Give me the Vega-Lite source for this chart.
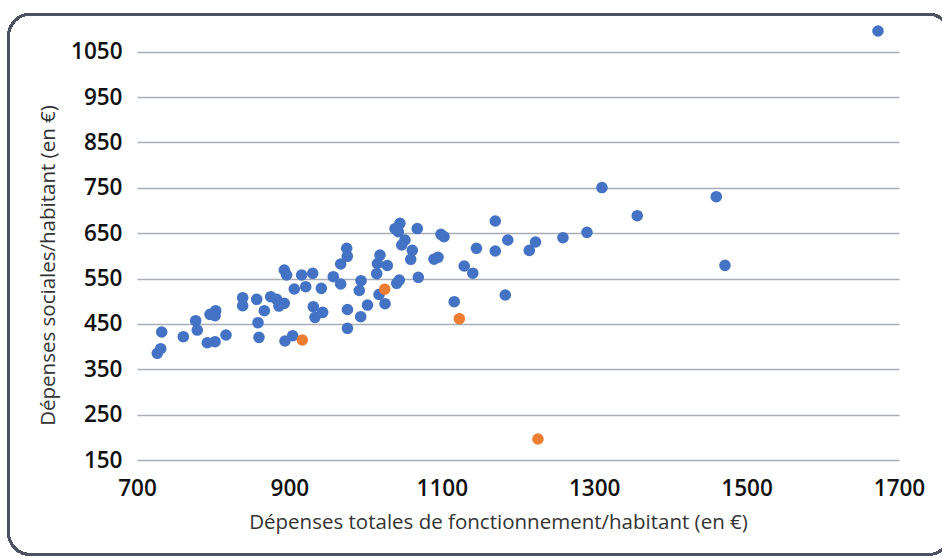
{
  "$schema": "https://vega.github.io/schema/vega-lite/v6.json",
  "width": 762,
  "height": 431,
  "autosize": {"type": "none"},
  "padding": {"left": 137, "top": 29, "right": 43, "bottom": 98},
  "background": "white",
  "config": {"view": {"stroke": null}},
  "data": {"values": [
    {"depenses_totales": 726.6, "depenses_sociales": 385.2, "groupe": "Autres"},
    {"depenses_totales": 731.1, "depenses_sociales": 395.3, "groupe": "Autres"},
    {"depenses_totales": 732.4, "depenses_sociales": 432.1, "groupe": "Autres"},
    {"depenses_totales": 760.8, "depenses_sociales": 421.8, "groupe": "Autres"},
    {"depenses_totales": 777.0, "depenses_sociales": 457.0, "groupe": "Autres"},
    {"depenses_totales": 779.1, "depenses_sociales": 436.5, "groupe": "Autres"},
    {"depenses_totales": 792.3, "depenses_sociales": 408.5, "groupe": "Autres"},
    {"depenses_totales": 802.4, "depenses_sociales": 410.7, "groupe": "Autres"},
    {"depenses_totales": 795.8, "depenses_sociales": 471.1, "groupe": "Autres"},
    {"depenses_totales": 803.3, "depenses_sociales": 479.1, "groupe": "Autres"},
    {"depenses_totales": 802.4, "depenses_sociales": 468.1, "groupe": "Autres"},
    {"depenses_totales": 816.8, "depenses_sociales": 425.5, "groupe": "Autres"},
    {"depenses_totales": 838.7, "depenses_sociales": 507.7, "groupe": "Autres"},
    {"depenses_totales": 838.7, "depenses_sociales": 490.1, "groupe": "Autres"},
    {"depenses_totales": 857.1, "depenses_sociales": 504.2, "groupe": "Autres"},
    {"depenses_totales": 858.8, "depenses_sociales": 452.6, "groupe": "Autres"},
    {"depenses_totales": 860.1, "depenses_sociales": 420.4, "groupe": "Autres"},
    {"depenses_totales": 867.1, "depenses_sociales": 479.1, "groupe": "Autres"},
    {"depenses_totales": 875.5, "depenses_sociales": 509.9, "groupe": "Autres"},
    {"depenses_totales": 883.3, "depenses_sociales": 504.2, "groupe": "Autres"},
    {"depenses_totales": 886.3, "depenses_sociales": 489.4, "groupe": "Autres"},
    {"depenses_totales": 893.3, "depenses_sociales": 495.4, "groupe": "Autres"},
    {"depenses_totales": 893.3, "depenses_sociales": 568.8, "groupe": "Autres"},
    {"depenses_totales": 896.4, "depenses_sociales": 557.8, "groupe": "Autres"},
    {"depenses_totales": 894.2, "depenses_sociales": 412.3, "groupe": "Autres"},
    {"depenses_totales": 904.3, "depenses_sociales": 424.0, "groupe": "Autres"},
    {"depenses_totales": 906.4, "depenses_sociales": 526.9, "groupe": "Autres"},
    {"depenses_totales": 916.1, "depenses_sociales": 557.8, "groupe": "Autres"},
    {"depenses_totales": 921.4, "depenses_sociales": 532.0, "groupe": "Autres"},
    {"depenses_totales": 930.6, "depenses_sociales": 561.5, "groupe": "Autres"},
    {"depenses_totales": 941.9, "depenses_sociales": 528.4, "groupe": "Autres"},
    {"depenses_totales": 931.4, "depenses_sociales": 487.9, "groupe": "Autres"},
    {"depenses_totales": 933.6, "depenses_sociales": 464.5, "groupe": "Autres"},
    {"depenses_totales": 943.7, "depenses_sociales": 475.5, "groupe": "Autres"},
    {"depenses_totales": 957.6, "depenses_sociales": 554.0, "groupe": "Autres"},
    {"depenses_totales": 967.3, "depenses_sociales": 537.9, "groupe": "Autres"},
    {"depenses_totales": 967.3, "depenses_sociales": 582.0, "groupe": "Autres"},
    {"depenses_totales": 975.2, "depenses_sociales": 616.6, "groupe": "Autres"},
    {"depenses_totales": 976.0, "depenses_sociales": 599.0, "groupe": "Autres"},
    {"depenses_totales": 976.2, "depenses_sociales": 481.7, "groupe": "Autres"},
    {"depenses_totales": 976.2, "depenses_sociales": 440.3, "groupe": "Autres"},
    {"depenses_totales": 991.7, "depenses_sociales": 523.6, "groupe": "Autres"},
    {"depenses_totales": 994.0, "depenses_sociales": 545.2, "groupe": "Autres"},
    {"depenses_totales": 993.6, "depenses_sociales": 465.8, "groupe": "Autres"},
    {"depenses_totales": 1002.5, "depenses_sociales": 491.6, "groupe": "Autres"},
    {"depenses_totales": 1014.6, "depenses_sociales": 560.6, "groupe": "Autres"},
    {"depenses_totales": 1015.6, "depenses_sociales": 583.1, "groupe": "Autres"},
    {"depenses_totales": 1018.9, "depenses_sociales": 601.8, "groupe": "Autres"},
    {"depenses_totales": 1028.5, "depenses_sociales": 578.7, "groupe": "Autres"},
    {"depenses_totales": 1017.6, "depenses_sociales": 514.8, "groupe": "Autres"},
    {"depenses_totales": 1025.5, "depenses_sociales": 494.5, "groupe": "Autres"},
    {"depenses_totales": 1040.8, "depenses_sociales": 539.5, "groupe": "Autres"},
    {"depenses_totales": 1044.2, "depenses_sociales": 546.7, "groupe": "Autres"},
    {"depenses_totales": 1069.2, "depenses_sociales": 552.7, "groupe": "Autres"},
    {"depenses_totales": 1038.6, "depenses_sociales": 659.8, "groupe": "Autres"},
    {"depenses_totales": 1045.1, "depenses_sociales": 671.7, "groupe": "Autres"},
    {"depenses_totales": 1042.9, "depenses_sociales": 653.2, "groupe": "Autres"},
    {"depenses_totales": 1051.7, "depenses_sociales": 634.9, "groupe": "Autres"},
    {"depenses_totales": 1047.4, "depenses_sociales": 623.9, "groupe": "Autres"},
    {"depenses_totales": 1061.3, "depenses_sociales": 612.2, "groupe": "Autres"},
    {"depenses_totales": 1059.2, "depenses_sociales": 592.4, "groupe": "Autres"},
    {"depenses_totales": 1067.8, "depenses_sociales": 660.2, "groupe": "Autres"},
    {"depenses_totales": 1098.9, "depenses_sociales": 647.5, "groupe": "Autres"},
    {"depenses_totales": 1102.9, "depenses_sociales": 642.2, "groupe": "Autres"},
    {"depenses_totales": 1089.8, "depenses_sociales": 592.6, "groupe": "Autres"},
    {"depenses_totales": 1095.0, "depenses_sociales": 596.8, "groupe": "Autres"},
    {"depenses_totales": 1129.4, "depenses_sociales": 577.6, "groupe": "Autres"},
    {"depenses_totales": 1140.7, "depenses_sociales": 561.7, "groupe": "Autres"},
    {"depenses_totales": 1116.3, "depenses_sociales": 498.9, "groupe": "Autres"},
    {"depenses_totales": 1145.5, "depenses_sociales": 616.6, "groupe": "Autres"},
    {"depenses_totales": 1170.2, "depenses_sociales": 676.8, "groupe": "Autres"},
    {"depenses_totales": 1170.2, "depenses_sociales": 610.7, "groupe": "Autres"},
    {"depenses_totales": 1186.6, "depenses_sociales": 634.9, "groupe": "Autres"},
    {"depenses_totales": 1183.3, "depenses_sociales": 513.7, "groupe": "Autres"},
    {"depenses_totales": 1214.8, "depenses_sociales": 612.0, "groupe": "Autres"},
    {"depenses_totales": 1223.0, "depenses_sociales": 630.5, "groupe": "Autres"},
    {"depenses_totales": 1259.0, "depenses_sociales": 640.0, "groupe": "Autres"},
    {"depenses_totales": 1290.5, "depenses_sociales": 651.9, "groupe": "Autres"},
    {"depenses_totales": 1310.2, "depenses_sociales": 750.6, "groupe": "Autres"},
    {"depenses_totales": 1356.5, "depenses_sociales": 688.5, "groupe": "Autres"},
    {"depenses_totales": 1460.2, "depenses_sociales": 730.3, "groupe": "Autres"},
    {"depenses_totales": 1471.6, "depenses_sociales": 579.1, "groupe": "Autres"},
    {"depenses_totales": 1672.4, "depenses_sociales": 1095.6, "groupe": "Autres"},
    {"depenses_totales": 916.9, "depenses_sociales": 414.5, "groupe": "Sélection"},
    {"depenses_totales": 1025.1, "depenses_sociales": 526.5, "groupe": "Sélection"},
    {"depenses_totales": 1123.0, "depenses_sociales": 461.4, "groupe": "Sélection"},
    {"depenses_totales": 1226.2, "depenses_sociales": 196.3, "groupe": "Sélection"}
  ]},
  "layer": [
    {
      "mark": {"type": "rect", "fill": null, "stroke": "#4b5363", "strokeWidth": 2.2, "cornerRadius": 22, "clip": false},
      "encoding": {
        "x": {"datum": 531.4, "type": "quantitative", "scale": {"domain": [700, 1700], "nice": false}},
        "x2": {"datum": 1767},
        "y": {"datum": 1133, "type": "quantitative", "scale": {"domain": [150, 1100], "nice": false}},
        "y2": {"datum": -58.5}
      }
    },
    {
      "mark": {"type": "circle", "size": 135, "opacity": 1},
      "encoding": {
        "x": {
          "field": "depenses_totales", "type": "quantitative",
          "scale": {"domain": [700, 1700], "nice": false, "zero": false},
          "axis": {
            "values": [700, 900, 1100, 1300, 1500, 1700],
            "format": "d",
            "title": "Dépenses totales de fonctionnement/habitant (en €)",
            "grid": false, "domain": false, "ticks": false, "tickSize": 0,
            "labelPadding": 17, "labelFont": "Open Sans", "labelFontSize": 22.5, "labelFontWeight": 600,
            "labelColor": "#111111", "labelFlush": false,
            "titleFont": "Open Sans", "titleFontSize": 20.5, "titleFontWeight": "normal", "titleColor": "#333333",
            "titleX": 361, "titleY": 62, "titleBaseline": "middle", "titleAnchor": null
          }
        },
        "y": {
          "field": "depenses_sociales", "type": "quantitative",
          "scale": {"domain": [150, 1100], "nice": false, "zero": false},
          "axis": {
            "values": [150, 250, 350, 450, 550, 650, 750, 850, 950, 1050],
            "format": "d",
            "title": "Dépenses sociales/habitant (en €)",
            "grid": true, "gridColor": "#a9adb6", "gridWidth": 1.5,
            "domain": false, "ticks": false, "tickSize": 0,
            "labelPadding": 15, "labelFont": "Open Sans", "labelFontSize": 22.5, "labelFontWeight": 600,
            "labelColor": "#111111",
            "titleFont": "Open Sans", "titleFontSize": 20.5, "titleFontWeight": "normal", "titleColor": "#333333",
            "titleX": -89, "titleY": 236, "titleAngle": -90, "titleAlign": "center", "titleBaseline": "middle"
          }
        },
        "color": {
          "field": "groupe", "type": "nominal",
          "scale": {"domain": ["Autres", "Sélection"], "range": ["#4472C4", "#ED7D31"]},
          "legend": null
        },
        "order": {"field": "groupe", "sort": "ascending"}
      }
    }
  ]
}
